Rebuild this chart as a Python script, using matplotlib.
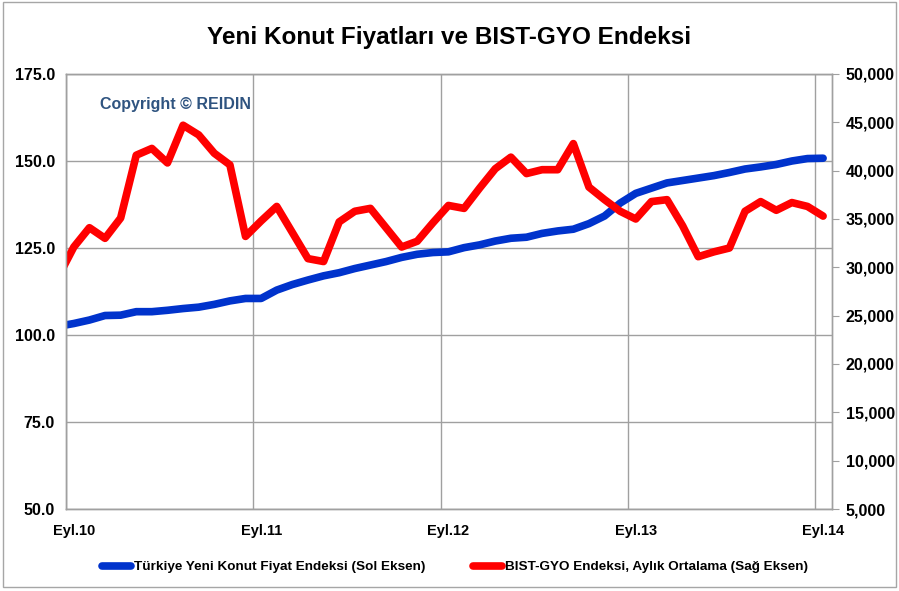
import matplotlib
matplotlib.use("Agg")
import matplotlib.pyplot as plt
from matplotlib.patches import Rectangle
import numpy as np

plt.rcParams['font.family'] = ['Liberation Sans', 'DejaVu Sans']

# monthly values, Aug 2010 .. Sep 2014 (first point falls just left of the axis)
konut = [102.5, 103.3, 104.3, 105.6, 105.7, 106.7, 106.7, 107.1, 107.6, 108.0,
         108.8, 109.8, 110.5, 110.5, 112.9, 114.5, 115.8, 117.0, 117.9, 119.1,
         120.1, 121.1, 122.3, 123.2, 123.7, 123.9, 125.1, 125.9, 127.0, 127.8,
         128.1, 129.2, 129.9, 130.4, 132.0, 134.2, 137.9, 140.7, 142.2, 143.7,
         144.4, 145.1, 145.8, 146.7, 147.7, 148.3, 149.0, 150.0, 150.7, 150.8]
gyo = [29000, 32100, 34100, 33000, 35100, 41600, 42300, 40800, 44700, 43700,
       41800, 40600, 33200, 34800, 36300, 33600, 30900, 30600, 34700, 35800,
       36100, 34100, 32100, 32700, 34600, 36400, 36100, 38200, 40200, 41400,
       39700, 40100, 40100, 42800, 38300, 37000, 35800, 35000, 36800, 37000,
       34300, 31100, 31600, 32000, 35800, 36800, 35900, 36700, 36300, 35300]
year_labels = ['Eyl.10', 'Eyl.11', 'Eyl.12', 'Eyl.13', 'Eyl.14']

# month k plotted at k + 0.5, year boundaries at 0, 12, 24, ...
x = np.arange(len(konut)) - 0.5

fig = plt.figure(figsize=(8.99, 5.91), dpi=100)
ax = fig.add_axes([66/899, 1-509/591, (832-66)/899, (509-74)/591])
ax2 = ax.twinx()

ax.plot(x, konut, color='#0033CC', lw=5.5, solid_capstyle='round', solid_joinstyle='round',
        label='Türkiye Yeni Konut Fiyat Endeksi (Sol Eksen)')
ax2.plot(x, gyo, color='#FF0000', lw=5.5, solid_capstyle='round', solid_joinstyle='round',
         label='BIST-GYO Endeksi, Aylık Ortalama (Sağ Eksen)')

ax.set_xlim(0, 49.07)
ax.set_ylim(50, 175)
ax2.set_ylim(5000, 50000)

ax.set_yticks(np.arange(50, 176, 25))
ax.set_yticklabels([f'{v:.1f}' for v in np.arange(50, 176, 25)])
ax2.set_yticks(np.arange(5000, 50001, 5000))
ax2.set_yticklabels([f'{v:,}' for v in range(5000, 50001, 5000)])

ax.set_xticks([0, 12, 24, 36, 48])
ax.set_xticklabels([])
ax.set_xticks([0.5, 12.5, 24.5, 36.5, 48.5], minor=True)
ax.set_xticklabels(year_labels, minor=True)
ax.tick_params(axis='x', which='both', length=0, pad=11)
ax.tick_params(axis='y', length=0, pad=8)
ax2.tick_params(axis='y', length=5, color='#A0A0A0', pad=5)

for lab in ax.get_xticklabels(minor=True):
    lab.set_fontweight('bold')
    lab.set_fontsize(10.5)
for lab in ax.get_yticklabels() + ax2.get_yticklabels():
    lab.set_fontweight('bold')
    lab.set_fontsize(11.5)

ax.grid(True, which='major', color='#A0A0A0', lw=1)
ax.set_axisbelow(True)
for a in (ax, ax2):
    for s in a.spines.values():
        s.set_color('#A0A0A0')
        s.set_linewidth(1)

ax.text(0.044, 0.93, 'Copyright © REIDIN', transform=ax.transAxes, color='#2F5480',
        fontsize=11.5, fontweight='bold', va='center', ha='left')

fig.text(0.5, 0.937, 'Yeni Konut Fiyatları ve BIST-GYO Endeksi', ha='center', va='center',
         fontsize=17.5, fontweight='bold')

h1, l1 = ax.get_legend_handles_labels()
h2, l2 = ax2.get_legend_handles_labels()
leg = fig.legend(h1 + h2, l1 + l2, loc='center', bbox_to_anchor=(0.506, 1-567/591), ncol=2,
                 frameon=False, handlelength=2.2, handletextpad=0.2, columnspacing=3.5,
                 prop={'weight': 'bold', 'size': 9.7})

fig.patches.append(Rectangle((3/899, 1-587/591), 893/899, 585/591, transform=fig.transFigure,
                             fill=False, edgecolor='#A6A6A6', lw=1))

fig.savefig('out.png', dpi=100)
